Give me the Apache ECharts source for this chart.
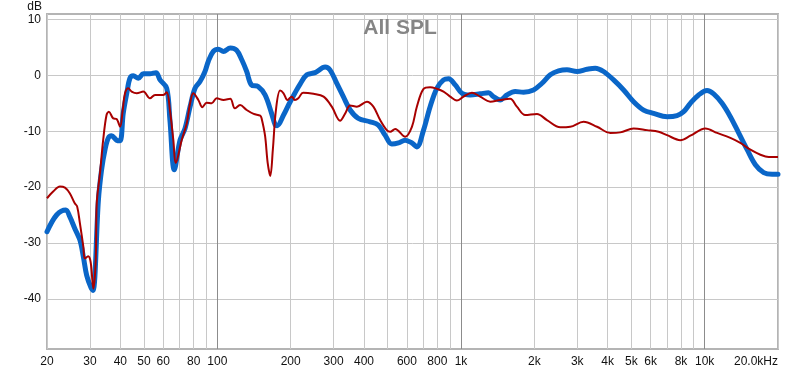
<!DOCTYPE html>
<html><head><meta charset="utf-8">
<script src="https://cdn.jsdelivr.net/npm/echarts@6/dist/echarts.min.js"></script>
<style>html,body{margin:0;padding:0;background:#fff}#c{width:800px;height:371px}</style>
</head><body><div id="c"></div>
<script>
// Frequencies (Hz) and SPL (dB)
const blueFreq = [20,21.9,23.9,24.8,26.0,27.3,28.2,29.1,30.3,30.9,32.5,33.5,34.6,35.7,36.8,38.6,39.9,41.1,42.5,43.8,45.2,47.4,49.7,52.9,56.0,58.2,62.0,63.9,66.6,70.3,73.7,77.3,81.0,84.9,89.0,91.8,96.3,101,106,113,120,126,132,138,147,157,167,173,176,187,196,208,219,233,252,277,290,309,329,351,379,424,458,488,520,554,590,629,659,702,747,796,848,889,947,1009,1091,1199,1297,1360,1449,1544,1669,1806,1985,2150,2325,2514,2723,2992,3289,3557,3848,4230,4650,5111,5617,6174,7010,7702,8200,8736,9448,10230,10890,11790,12750,13790,14940,16150,17470,18920,20000];
const blueDb = [-28.0,-25.0,-24.1,-25.3,-27.4,-29.5,-32.5,-35.8,-38.0,-38.5,-22.4,-16.9,-13.3,-11.2,-10.8,-11.6,-11.7,-6.8,-3.2,-0.5,-0.05,-0.5,0.3,0.3,0.5,-0.8,-2.3,-8.0,-16.9,-11.6,-9.5,-5.6,-2.3,-1.1,0.7,2.5,4.3,4.7,4.3,4.9,4.5,2.8,0.7,-1.7,-2.0,-3.5,-6.8,-8.9,-9.0,-7.1,-5.3,-3.2,-1.5,0.1,0.5,1.5,1.0,-1.4,-3.8,-6.2,-7.7,-8.3,-8.9,-10.7,-12.3,-12.1,-11.6,-12.1,-12.8,-9.8,-5.6,-2.3,-0.8,-0.6,-1.7,-3.2,-3.5,-3.3,-3.1,-3.8,-4.4,-3.5,-2.9,-3.0,-2.6,-1.4,0.1,0.8,1.0,0.7,1.1,1.3,0.7,-0.8,-2.6,-4.7,-6.2,-6.8,-7.4,-7.2,-6.5,-5.0,-3.5,-2.7,-3.3,-5.0,-7.4,-10.3,-13.3,-16.0,-17.4,-17.7,-17.7];
const redFreq = [20,21.2,22.6,23.7,24.8,26.0,26.6,27.3,28.2,28.6,29.5,30.2,31.0,31.7,32.0,33.0,34.0,35.1,35.9,37.4,38.6,39.9,40.9,41.8,43.1,44.5,46.7,49.7,52.9,55.5,60.0,62.0,63.9,66.0,67.5,71.4,74.9,77.3,79.7,83.6,86.8,90.4,94.8,99.4,106,113,118,124,132,141,150,152,157,161,165,169,174,181,187,194,202,208,215,225,248,273,295,319,335,351,374,411,437,466,496,512,537,590,629,659,702,747,796,848,903,962,1024,1109,1199,1318,1449,1592,1696,1835,2050,2253,2556,2808,3184,3616,4100,4507,5111,5800,6472,7010,7948,8736,10070,11250,12750,14010,15410,16940,18320,20000];
const redDb = [-22.0,-20.8,-19.9,-20.1,-21.1,-22.9,-23.5,-26.5,-30.7,-32.8,-32.4,-33.4,-38.2,-33.1,-22.9,-17.5,-11.6,-7.1,-6.5,-7.7,-7.8,-9.2,-6.2,-3.2,-2.3,-2.9,-3.2,-2.9,-4.1,-3.5,-3.5,-3.0,-6.2,-11.6,-15.7,-11.6,-8.6,-5.0,-3.2,-4.4,-5.7,-4.9,-5.0,-4.1,-4.4,-4.2,-5.9,-5.3,-6.2,-6.9,-7.2,-7.7,-10.8,-15.7,-18.0,-13.3,-6.2,-2.7,-3.2,-4.4,-3.8,-4.4,-4.1,-3.1,-3.3,-3.8,-5.6,-8.1,-6.8,-5.4,-5.6,-4.7,-5.6,-8.0,-9.8,-10.1,-9.6,-11.0,-9.2,-5.6,-2.4,-2.1,-2.4,-2.9,-3.8,-4.5,-3.8,-3.1,-3.8,-4.7,-4.4,-4.2,-5.6,-7.1,-6.9,-8.0,-9.3,-9.2,-8.3,-9.2,-10.3,-10.2,-9.5,-9.8,-10.1,-10.7,-11.6,-10.8,-9.5,-10.3,-11.2,-12.1,-13.3,-14.2,-14.6,-14.6];
// Axis ticks
const gridFreqs = [20,30,40,50,60,70,80,90,100,200,300,400,500,600,700,800,900,1000,2000,3000,4000,5000,6000,7000,8000,9000,10000,20000];
const labelFreqs = [20,30,40,50,60,80,100,200,300,400,600,800,1000,2000,3000,4000,5000,6000,8000,10000,20000];
const labelTexts = ['20','30','40','50','60','80','100','200','300','400','600','800','1k','2k','3k','4k','5k','6k','8k','10k','20.0kHz'];
const yTicks = [-40,-30,-20,-10,0,10];

const L = Math.log10;
const toPts = (f, d) => f.map((v, i) => [L(v), d[i]]);
const labelMap = {};
labelFreqs.forEach((f, i) => { labelMap[L(f).toFixed(5)] = labelTexts[i]; });

const chart = echarts.init(document.getElementById('c'), null, {renderer: 'canvas'});
const gridColors = [];
for (let i = 0; i < 9; i++) gridColors.push(i === 8 ? '#8c8c8c' : '#c8c8c8');

chart.setOption({
  backgroundColor: '#fff',
  animation: false,
  title: {text: 'All SPL', left: 'center', top: 13,
    textStyle: {fontFamily: 'Liberation Sans, Arial', fontWeight: 'bold', fontSize: 21, color: '#858585'}},
  grid: {left: 47, right: 22, top: 14, bottom: 22, show: true, borderColor: '#b4b4b4', borderWidth: 2, containLabel: false},
  xAxis: {
    type: 'value', min: L(20), max: L(20000),
    axisLine: {show: false}, axisTick: {show: false, customValues: gridFreqs.map(L)},
    splitLine: {show: true, lineStyle: {color: gridColors, width: 1}},
    axisLabel: {customValues: labelFreqs.map(L), margin: 7,
      fontFamily: 'Liberation Sans, Arial', fontSize: 12, color: '#111',
      formatter: v => {
        const t = labelMap[v.toFixed(5)] || '';
        return t === '20.0kHz' ? '{r|' + t + '}' : t;
      },
      rich: {r: {fontFamily: 'Liberation Sans, Arial', fontSize: 12, color: '#111', padding: [0, 44, 0, 0]}}
    }
  },
  yAxis: {
    type: 'value', min: -49, max: 11,
    axisLine: {show: false}, axisTick: {show: false, customValues: yTicks},
    splitLine: {show: true, lineStyle: {color: '#c8c8c8', width: 1}},
    axisLabel: {customValues: yTicks, margin: 6, fontFamily: 'Liberation Sans, Arial', fontSize: 12, color: '#111'}
  },
  graphic: [{type: 'text', right: 758, top: 1, style: {text: 'dB', fontFamily: 'Liberation Sans, Arial', fontSize: 12, fill: '#111'}}],
  series: [
    {type: 'line', data: toPts(blueFreq, blueDb), showSymbol: false, smooth: 0.35,
      lineStyle: {color: '#0a66c8', width: 5, join: 'round', cap: 'round'}, z: 3},
    {type: 'line', data: toPts(redFreq, redDb), showSymbol: false, smooth: 0.35,
      lineStyle: {color: '#a80000', width: 2, join: 'round'}, z: 4}
  ]
});
</script></body></html>
